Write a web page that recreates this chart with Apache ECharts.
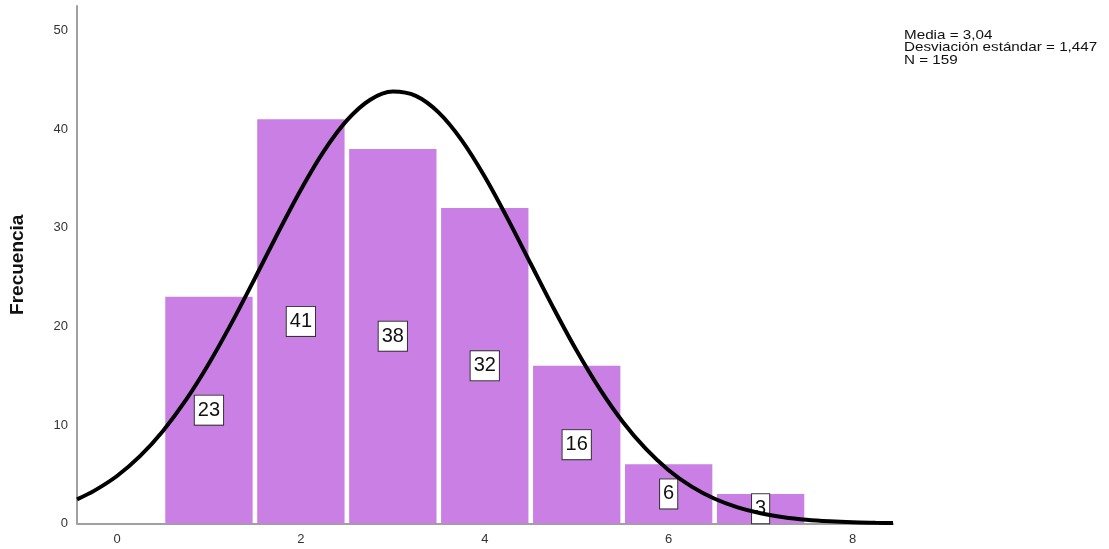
<!DOCTYPE html>
<html><head><meta charset="utf-8">
<script src="https://cdn.jsdelivr.net/npm/echarts@6/dist/echarts.min.js"></script>
<style>html,body{margin:0;padding:0;background:#fff}#c{width:1109px;height:549px}</style>
</head><body><div id="c"></div>
<script>
// Histogram bins (centers) and counts
var binCenters = [1, 2, 3, 4, 5, 6, 7];
var binCounts = [23, 41, 38, 32, 16, 6, 3];
// Normal curve (x, frequency)
var curveX = [-0.435, -0.25, 0, 0.25, 0.5, 0.75, 1, 1.25, 1.5, 1.75, 2, 2.25, 2.5, 2.75, 3, 3.25, 3.5, 3.75, 4, 4.25, 4.5, 4.75, 5, 5.25, 5.5, 5.75, 6, 6.25, 6.5, 6.75, 7, 7.25, 7.5, 7.75, 8, 8.25, 8.44];
var curveY = [2.45, 3.31, 4.82, 6.83, 9.39, 12.53, 16.23, 20.40, 24.88, 29.47, 33.86, 37.77, 40.89, 42.97, 43.82, 43.38, 41.68, 38.87, 35.18, 30.91, 26.35, 21.81, 17.52, 13.66, 10.33, 7.59, 5.41, 3.74, 2.51, 1.64, 1.04, 0.64, 0.38, 0.22, 0.12, 0.07, 0.04];
var xTicks = [0, 2, 4, 6, 8];
var yTicks = [0, 10, 20, 30, 40, 50];
var statLines = ['Media = 3,04', 'Desviación estándar = 1,447', 'N = 159'];

var FONT = '"Liberation Sans", Arial, sans-serif';
var barData = binCenters.map(function (c, i) { return [c, binCounts[i]]; });
var lineData = curveX.map(function (x, i) { return [x, curveY[i]]; });

var chart = echarts.init(document.getElementById('c'), null, {renderer: 'canvas'});
chart.setOption({
  animation: false,
  backgroundColor: '#fff',
  grid: {left: 77, right: 216, top: 6, bottom: 25.5},
  xAxis: {
    type: 'value', min: -0.435, max: 8.44,
    axisLine: {show: true, onZero: false, lineStyle: {color: '#a0a0a0', width: 2}},
    axisTick: {show: false},
    splitLine: {show: false},
    axisLabel: {customValues: xTicks, color: '#333', fontSize: 13, fontFamily: FONT, margin: 9}
  },
  yAxis: {
    type: 'value', min: 0, max: 52.5,
    name: 'Frecuencia', nameLocation: 'middle', nameGap: 50,
    nameTextStyle: {color: '#111', fontSize: 19, fontWeight: 'bold', fontFamily: FONT},
    axisLine: {show: true, onZero: false, lineStyle: {color: '#a0a0a0', width: 2}},
    axisTick: {show: false},
    splitLine: {show: false},
    axisLabel: {customValues: yTicks, color: '#333', fontSize: 13, fontFamily: FONT, margin: 9}
  },
  graphic: [{
    type: 'text', x: 904, y: 29, scaleX: 1.17,
    style: {text: statLines.join('\n'), fill: '#111', font: '13px ' + FONT, lineHeight: 12.5}
  }],
  series: [{
    type: 'custom',
    data: barData,
    z: 2,
    renderItem: function (params, api) {
      var c = api.value(0), v = api.value(1);
      var p0 = api.coord([c - 0.5, v]);
      var p1 = api.coord([c + 0.5, 0]);
      var pm = api.coord([c, v / 2]);
      return {
        type: 'group',
        children: [{
          type: 'rect',
          shape: {x: p0[0] + 2.3, y: p0[1], width: p1[0] - p0[0] - 4.6, height: p1[1] - p0[1]},
          style: {fill: '#c97fe4'}
        }, {
          type: 'text',
          z2: 10,
          style: {
            text: String(v), x: pm[0], y: pm[1], align: 'center', verticalAlign: 'middle',
            fill: '#111', font: '20px ' + FONT, lineHeight: 20,
            backgroundColor: '#fff', borderColor: '#333', borderWidth: 1, padding: [5, 3, 4, 3]
          }
        }]
      };
    }
  }, {
    type: 'line',
    data: lineData,
    smooth: 0.3,
    showSymbol: false,
    z: 5,
    lineStyle: {color: '#000', width: 4}
  }]
});
</script></body></html>
